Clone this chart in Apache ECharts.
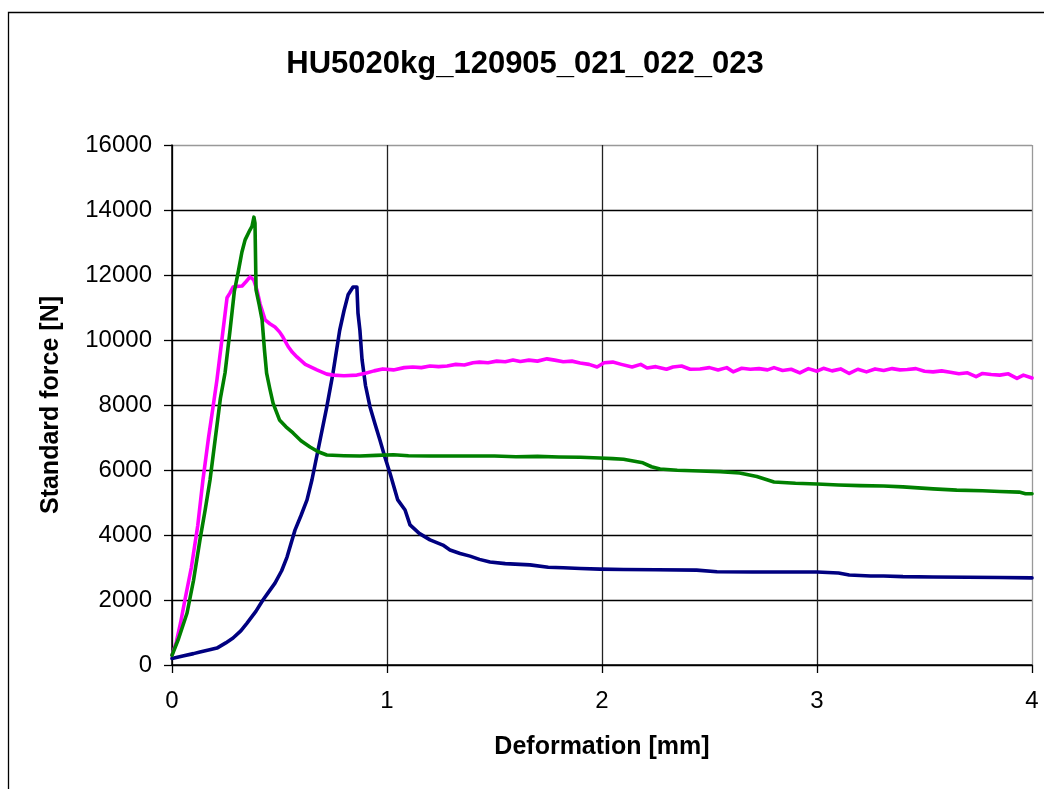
<!DOCTYPE html>
<html>
<head>
<meta charset="utf-8">
<script src="https://cdn.jsdelivr.net/npm/echarts@6/dist/echarts.min.js"></script>
<style>
html,body{margin:0;padding:0;background:#fff;}
#chart{width:1044px;height:789px;}
</style>
</head>
<body>
<div id="chart"></div>
<script>
var chartTitle = 'HU5020kg_120905_021_022_023';
var xAxisTitle = 'Deformation [mm]';
var yAxisTitle = 'Standard force [N]';
var xTicks = [0, 1, 2, 3, 4];
var yTicks = [0, 2000, 4000, 6000, 8000, 10000, 12000, 14000, 16000];

var seriesNames = ['021', '022', '023'];

var navy021 = [[0,200],[0.05,280],[0.10,350],[0.13,400],[0.17,460],[0.209,520],[0.25,680],[0.284,830],[0.32,1050],[0.349,1290],[0.39,1650],[0.423,2000],[0.45,2250],[0.479,2520],[0.51,2900],[0.535,3320],[0.572,4150],[0.60,4600],[0.628,5080],[0.651,5700],[0.685,6800],[0.72,7940],[0.749,8990],[0.78,10300],[0.80,10900],[0.819,11390],[0.842,11630],[0.86,11630],[0.865,10830],[0.874,10300],[0.884,9390],[0.90,8600],[0.921,7940],[0.945,7400],[0.967,6920],[0.99,6400],[1.014,5900],[1.05,5080],[1.084,4770],[1.107,4310],[1.15,4050],[1.20,3850],[1.26,3690],[1.293,3540],[1.34,3430],[1.386,3350],[1.43,3250],[1.479,3170],[1.55,3120],[1.665,3080],[1.75,3010],[1.82,2990],[1.90,2970],[1.99,2950],[2.10,2940],[2.25,2930],[2.44,2920],[2.535,2870],[2.70,2860],[2.85,2860],[3.0,2860],[3.10,2830],[3.15,2770],[3.25,2740],[3.31,2740],[3.40,2720],[3.54,2710],[3.70,2700],[3.85,2690],[4.0,2680]];

var magenta022 = [[0,300],[0.02,700],[0.04,1300],[0.06,2000],[0.09,3000],[0.12,4300],[0.144,5700],[0.17,7000],[0.19,7900],[0.209,8770],[0.23,9900],[0.256,11300],[0.27,11450],[0.284,11630],[0.30,11650],[0.326,11660],[0.345,11800],[0.363,11940],[0.38,11850],[0.395,11540],[0.41,11100],[0.433,10620],[0.455,10500],[0.479,10400],[0.50,10250],[0.516,10090],[0.54,9800],[0.56,9620],[0.581,9480],[0.62,9250],[0.674,9080],[0.72,8950],[0.749,8920],[0.80,8900],[0.86,8920],[0.90,8980],[0.94,9050],[0.98,9110],[1.03,9080],[1.08,9150],[1.12,9170],[1.16,9150],[1.20,9200],[1.24,9180],[1.28,9200],[1.32,9250],[1.36,9230],[1.40,9300],[1.43,9320],[1.47,9300],[1.51,9350],[1.55,9330],[1.586,9385],[1.62,9340],[1.66,9380],[1.70,9350],[1.744,9420],[1.78,9380],[1.82,9330],[1.86,9350],[1.898,9290],[1.94,9250],[1.977,9170],[2.01,9300],[2.05,9320],[2.09,9250],[2.14,9170],[2.18,9250],[2.21,9140],[2.25,9180],[2.30,9100],[2.33,9170],[2.37,9200],[2.41,9100],[2.456,9110],[2.50,9150],[2.54,9080],[2.58,9150],[2.61,9020],[2.65,9130],[2.69,9100],[2.73,9120],[2.77,9080],[2.80,9150],[2.84,9060],[2.88,9100],[2.92,8990],[2.96,9120],[3.00,9040],[3.03,9130],[3.07,9050],[3.11,9110],[3.15,8970],[3.19,9100],[3.23,9020],[3.27,9110],[3.31,9060],[3.35,9120],[3.386,9080],[3.42,9090],[3.46,9120],[3.50,9040],[3.54,9020],[3.58,9050],[3.62,9010],[3.66,8960],[3.70,8990],[3.74,8870],[3.77,8970],[3.81,8940],[3.85,8920],[3.89,8960],[3.93,8820],[3.96,8920],[4.0,8830]];

var green023 = [[0,300],[0.03,800],[0.07,1600],[0.10,2600],[0.13,3850],[0.155,4800],[0.177,5700],[0.20,6900],[0.225,8200],[0.247,9000],[0.27,10300],[0.29,11500],[0.307,12060],[0.325,12700],[0.34,13080],[0.363,13390],[0.372,13500],[0.381,13780],[0.386,13600],[0.391,11540],[0.405,11100],[0.419,10620],[0.43,9700],[0.44,8980],[0.455,8500],[0.47,8060],[0.50,7540],[0.53,7330],[0.563,7140],[0.60,6900],[0.642,6710],[0.68,6560],[0.72,6460],[0.80,6440],[0.874,6430],[0.95,6450],[1.03,6470],[1.10,6440],[1.20,6430],[1.34,6430],[1.50,6430],[1.60,6410],[1.70,6420],[1.80,6400],[1.90,6390],[1.99,6370],[2.05,6350],[2.10,6330],[2.19,6220],[2.23,6100],[2.27,6030],[2.35,5990],[2.456,5970],[2.55,5950],[2.64,5910],[2.72,5800],[2.80,5630],[2.90,5590],[3.0,5570],[3.10,5540],[3.20,5520],[3.31,5510],[3.40,5480],[3.54,5420],[3.65,5380],[3.77,5360],[3.85,5340],[3.94,5320],[3.97,5270],[4.0,5270]];

var chart = echarts.init(document.getElementById('chart'), null, {renderer: 'canvas'});
var FONT = '"Liberation Sans", Arial, sans-serif';

function lineSeries(name, data, color) {
  return {
    name: name, type: 'line', data: data, showSymbol: false, symbol: 'none',
    smooth: false, animation: false,
    lineStyle: {color: color, width: 3.6, join: 'round', cap: 'round'},
    itemStyle: {color: color}
  };
}

chart.setOption({
  backgroundColor: '#ffffff',
  animation: false,
  title: {
    text: chartTitle, left: 520, top: 44, textAlign: 'center',
    textStyle: {fontFamily: FONT, fontWeight: 'bold', fontSize: 31, color: '#000'}
  },
  graphic: [{
    type: 'rect', silent: true,
    shape: {x: 8.5, y: 12.5, width: 1200, height: 1000},
    style: {fill: null, stroke: '#000', lineWidth: 1.3}
  }],
  grid: {left: 172, right: 12, top: 145, bottom: 124, containLabel: false, show: false},
  xAxis: {
    type: 'value', min: xTicks[0], max: xTicks[xTicks.length - 1], interval: 1,
    name: xAxisTitle, nameLocation: 'middle', nameGap: 70,
    nameTextStyle: {fontFamily: FONT, fontWeight: 'bold', fontSize: 25, color: '#000'},
    axisLine: {show: true, onZero: false, lineStyle: {color: '#000', width: 1.5}},
    axisTick: {show: true, inside: false, length: 8, lineStyle: {color: '#000', width: 1.3}},
    axisLabel: {margin: 24, fontFamily: FONT, fontSize: 24, color: '#000',
      formatter: function (v) { return String(v); }},
    splitLine: {show: true, lineStyle: {color: ['#000', '#222', '#222', '#222', '#999'], width: 1.3}}
  },
  yAxis: {
    type: 'value', min: yTicks[0], max: yTicks[yTicks.length - 1], interval: 2000,
    name: yAxisTitle, nameLocation: 'middle', nameGap: 108, nameRotate: 90,
    nameTextStyle: {fontFamily: FONT, fontWeight: 'bold', fontSize: 25, color: '#000'},
    axisLine: {show: true, onZero: false, lineStyle: {color: '#000', width: 1.5}},
    axisTick: {show: true, inside: false, length: 8, lineStyle: {color: '#000', width: 1.3}},
    axisLabel: {margin: 20, fontFamily: FONT, fontSize: 24, color: '#000',
      formatter: function (v) { return String(v); }},
    splitLine: {show: true, lineStyle: {color: ['#000', '#000', '#000', '#000', '#000', '#000', '#000', '#000', '#999'], width: 1.3}}
  },
  series: [
    lineSeries(seriesNames[0], navy021, '#000080'),
    lineSeries(seriesNames[1], magenta022, '#FF00FF'),
    lineSeries(seriesNames[2], green023, '#008000')
  ]
});
</script>
</body>
</html>
